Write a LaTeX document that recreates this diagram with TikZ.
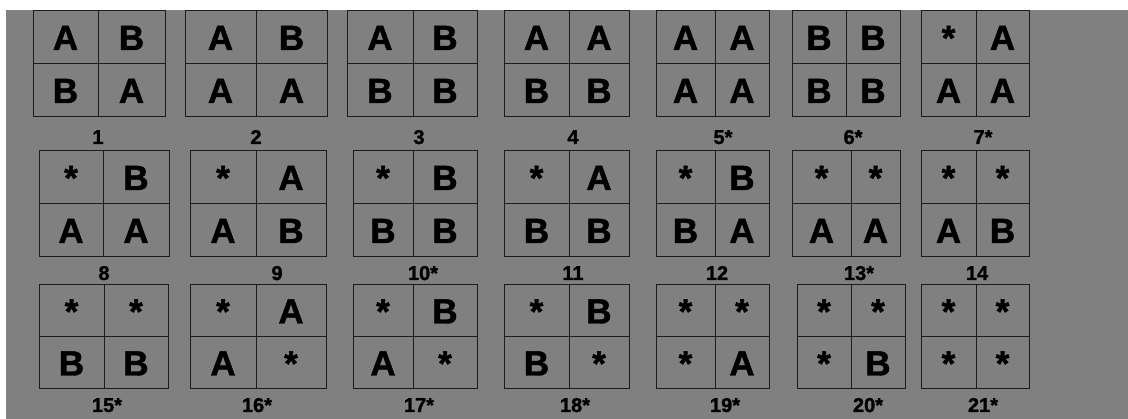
\documentclass[tikz,border=0pt]{standalone}
\usepackage{fontspec}
\setmainfont{Liberation Sans}
\newfontfamily\heavyfont{Liberation Sans}[BoldFeatures={FakeBold=1.4}]
\usepackage{tikz}
\usetikzlibrary{positioning}
\definecolor{panelbg}{HTML}{808080}
\definecolor{rulec}{HTML}{1C1C1C}
\tikzset{
  tile/.style={draw=rulec,line width=1pt},
  cell/.style={font=\heavyfont\bfseries\fontsize{35}{35}\selectfont,text height=25pt,text depth=0pt,inner sep=0pt},
  lbl/.style={font=\heavyfont\bfseries\fontsize{20}{20}\selectfont,text height=14pt,text depth=0pt,inner sep=0pt}
}

\begin{document}
\begin{tikzpicture}[x=1pt,y=-1pt]
\fill[white] (0,0) rectangle (1128,419);
\fill[panelbg] (6,10) rectangle (1128,419);
% n / left / mid / right / top / mid / bottom / cells / label x / label y / label
\foreach \n/\xa/\xm/\xb/\ya/\ym/\yb/\p/\q/\r/\s/\lx/\ly/\lab in {
  1/33/98/165/11/64/117/A/B/B/A/98/137/1,
  2/185/256/327/11/64/117/A/B/A/A/256/137/2,
  3/347/413/477/11/64/117/A/B/B/B/419/137/3,
  4/504/569/629/11/64/117/A/A/B/B/573/137/4,
  5/656/715/769/11/64/117/A/A/A/A/723/137/5*,
  6/792/846/900/11/64/117/B/B/B/B/853/137/6*,
  7/921/976/1029/11/64/117/*/A/A/A/983/137/7*,
  8/39/103/169/151/204/257/*/B/A/A/104/273/8,
  9/190/256/326/151/204/257/*/A/A/B/277/273/9,
  10/353/413/477/151/204/257/*/B/B/B/423/273/10*,
  11/504/569/629/151/204/257/*/A/B/B/573/273/11,
  12/656/715/769/151/204/257/*/B/B/A/717/273/12,
  13/792/851/900/151/204/257/*/*/A/A/859/273/13*,
  14/921/976/1029/151/204/257/*/*/A/B/977/273/14,
  15/39/104/168/285/337/389/*/*/B/B/107/405/15*,
  16/190/256/326/285/337/389/*/A/A/*/257/405/16*,
  17/353/413/477/285/337/389/*/B/A/*/419/405/17*,
  18/504/569/629/285/337/389/*/B/B/*/575/405/18*,
  19/656/715/769/285/337/389/*/*/*/A/725/405/19*,
  20/797/851/905/285/337/389/*/*/*/B/868/405/20*,
  21/921/976/1029/285/337/389/*/*/*/*/983/405/21*}{
  \draw[tile] (\xa,\ya) rectangle (\xb,\yb) (\xm,\ya) -- (\xm,\yb) (\xa,\ym) -- (\xb,\ym);
  \node[cell] (c\n a) at ({(\xa+\xm)/2},{(\ya+\ym)/2}) {\p};
  \node[cell] (c\n b) at ({(\xm+\xb)/2},{(\ya+\ym)/2}) {\q};
  \node[cell] (c\n c) at ({(\xa+\xm)/2},{(\ym+\yb)/2}) {\r};
  \node[cell] (c\n d) at ({(\xm+\xb)/2},{(\ym+\yb)/2}) {\s};
  \node[lbl] (n\n) at (\lx,\ly) {\lab};
}
\end{tikzpicture}
\end{document}
